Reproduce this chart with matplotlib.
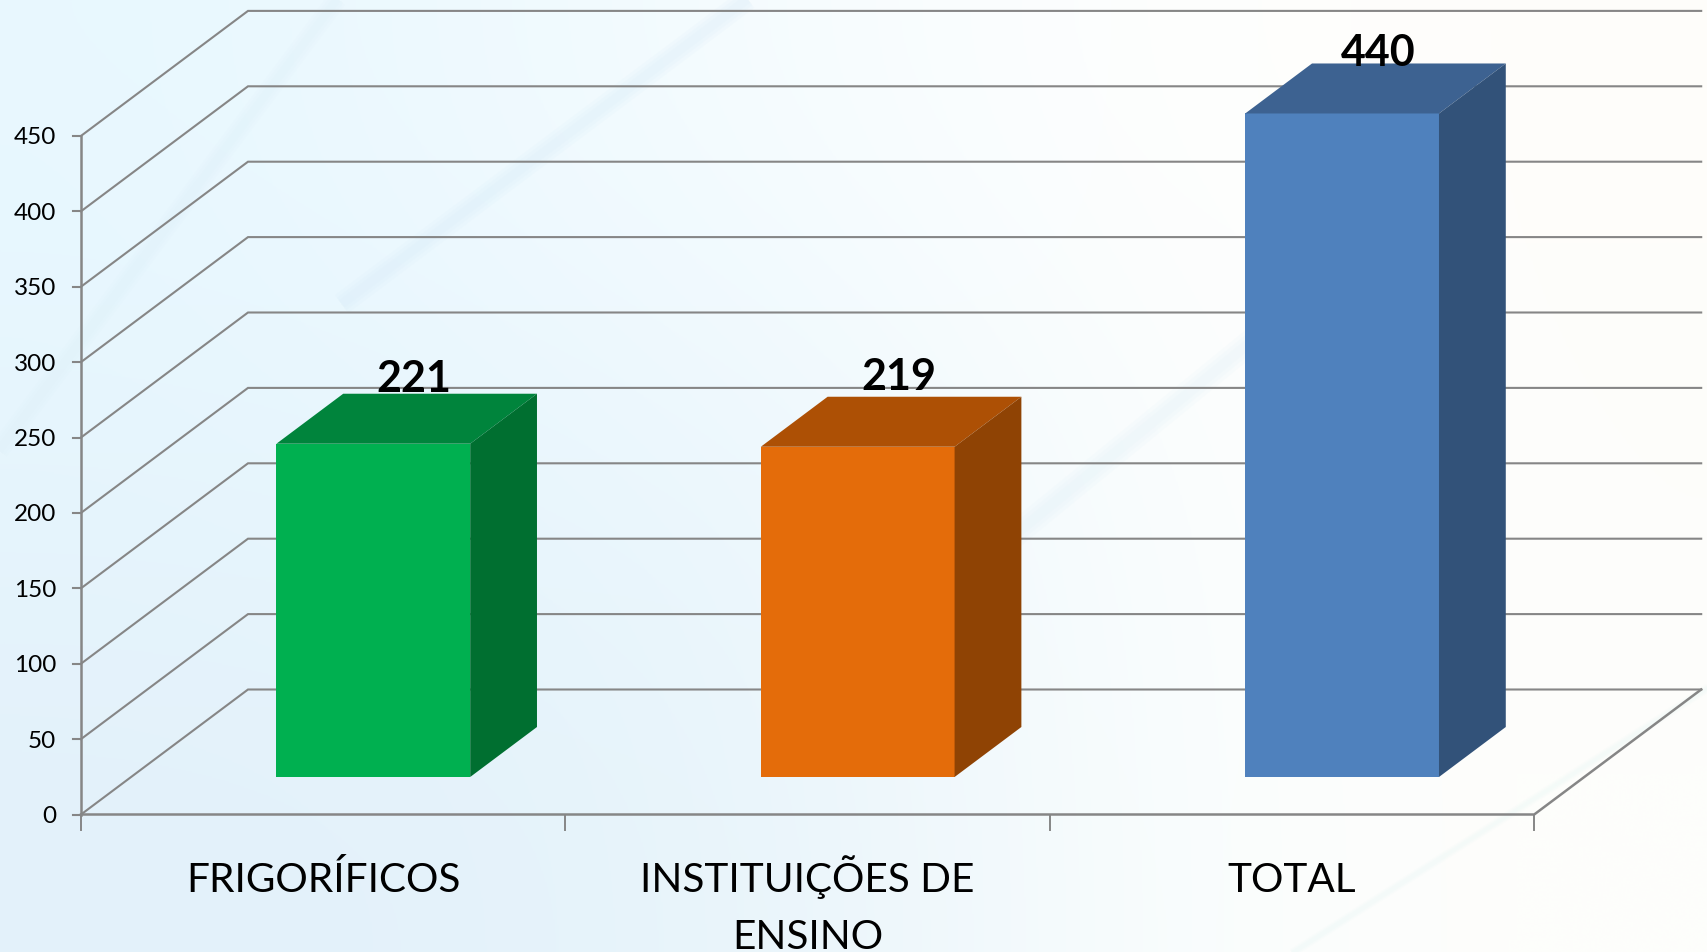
import numpy as np
import matplotlib
matplotlib.use('Agg')
import matplotlib.pyplot as plt
from matplotlib.patches import Polygon

# -------------------------------
# 1. Data
# -------------------------------
categories = ['FRIGORÍFICOS', 'INSTITUIÇÕES DE\nENSINO', 'TOTAL']
values = [221, 219, 440]
y_ticks = [0, 50, 100, 150, 200, 250, 300, 350, 400, 450]

front_colors = ['#00B050', '#E46C0A', '#4F81BD']
top_colors = ['#00843C', '#AD5005', '#3D6291']
side_colors = ['#006F30', '#8F4304', '#325279']

# -------------------------------
# 2. Figure and oblique layout
# -------------------------------
W, H = 1708, 953
PX_CAT = 484.4     # pixels per category
PX_VAL = 1.508     # pixels per value unit
X0, Y0 = 81, 815.5 # pixel position of the axis origin
DEPTH_X = 167 / PX_CAT
DEPTH_Y = 125 / PX_VAL
GRID = '#868686'

fig = plt.figure(figsize=(W / 100, H / 100), dpi=100)
ax = fig.add_axes([0, 0, 1, 1])
xlim = (-X0 / PX_CAT, (W - X0) / PX_CAT)
ylim = ((Y0 - H) / PX_VAL, Y0 / PX_VAL)
ax.axis('off')

# background wash, light blue on the left fading to white on the right
bg = np.array([
    [[232, 248, 255], [240, 250, 255], [248, 253, 255], [255, 255, 254], [254, 253, 250]],
    [[230, 245, 253], [232, 246, 253], [238, 248, 253], [252, 254, 254], [254, 254, 251]],
    [[227, 241, 250], [228, 242, 250], [236, 246, 251], [251, 254, 254], [254, 254, 251]],
]) / 255
ax.imshow(bg, extent=(xlim[0], xlim[1], ylim[0], ylim[1]), aspect='auto',
          interpolation='bicubic', zorder=0)

# faint diagonal streaks of the slide background, in figure fractions
streaks = [(-0.02, 0.48, 0.21, 1.03, '#DCEEF8', 14),
           (0.20, 0.68, 0.46, 1.03, '#D4EAF6', 16),
           (0.50, 0.30, 0.78, 0.71, '#DDF0F8', 18),
           (0.74, -0.02, 1.02, 0.30, '#E6F6F8', 6)]
for fx0, fy0, fx1, fy1, c, w in streaks:
    x_a = xlim[0] + fx0 * (xlim[1] - xlim[0])
    x_b = xlim[0] + fx1 * (xlim[1] - xlim[0])
    y_a = ylim[0] + fy0 * (ylim[1] - ylim[0])
    y_b = ylim[0] + fy1 * (ylim[1] - ylim[0])
    # stacked widths so the edge of the streak stays soft
    for scale in [1.0, 0.7, 0.4]:
        ax.plot([x_a, x_b], [y_a, y_b], color=c, lw=w * scale, alpha=0.12, zorder=0.5,
                solid_capstyle='butt')

# -------------------------------
# 3. Walls, floor and axes
# -------------------------------
n = len(categories)
for v in y_ticks:
    ax.plot([0, DEPTH_X, n + DEPTH_X], [v, v + DEPTH_Y, v + DEPTH_Y],
            color=GRID, lw=1.5, zorder=1, solid_joinstyle='miter')
    ax.plot([-8 / PX_CAT, 0], [v, v], color=GRID, lw=1.5, zorder=1)
    ax.text(-25 / PX_CAT, v - 1 / PX_VAL, str(v), ha='right', va='center', fontsize=17.5,
            family='Lato', color='black')

ax.plot([0, 0], [0, y_ticks[-1]], color=GRID, lw=1.8, zorder=1)
ax.plot([0, n, n + DEPTH_X], [0, 0, DEPTH_Y], color=GRID, lw=1.8, zorder=1)
for i in range(n + 1):
    ax.plot([i, i], [0, -15 / PX_VAL], color=GRID, lw=1.4, zorder=1)

# -------------------------------
# 4. Bars
# -------------------------------
BAR_W = 0.40
D0, D1 = 0.30, 0.70   # front and back of the bar inside the floor depth
label_shift = [16, 21, 11]  # pixels between back edge of the top and label centre
label_dx = [0.687, 0.688, 0.678]  # label centre inside each category
for i, v in enumerate(values):
    left = i + 0.30 + D0 * DEPTH_X
    right = left + BAR_W
    base = D0 * DEPTH_Y
    top = v + base
    ddx = (D1 - D0) * DEPTH_X
    ddy = (D1 - D0) * DEPTH_Y
    ax.add_patch(Polygon([(left, base), (right, base), (right, top), (left, top)],
                         fc=front_colors[i], ec='none', zorder=3))
    ax.add_patch(Polygon([(left, top), (right, top), (right + ddx, top + ddy), (left + ddx, top + ddy)],
                         fc=top_colors[i], ec='none', zorder=3))
    ax.add_patch(Polygon([(right, base), (right + ddx, base + ddy), (right + ddx, top + ddy), (right, top)],
                         fc=side_colors[i], ec='none', zorder=3))
    ax.text(i + label_dx[i], top + ddy + label_shift[i] / PX_VAL, str(v), ha='center', va='center',
            fontsize=31, fontweight='bold', family='Lato', color='black', zorder=4)

# -------------------------------
# 5. Category labels
# -------------------------------
FIRST_BASE = 77   # pixels from the axis down to the first baseline
LINE_STEP = 57
for i, name in enumerate(categories):
    for k, line in enumerate(name.split('\n')):
        ax.text(i + 0.5, -(FIRST_BASE + k * LINE_STEP) / PX_VAL, line, ha='center', va='baseline',
                fontsize=29.2, family='Lato', color='black', zorder=4)

ax.set_xlim(xlim)
ax.set_ylim(ylim)

# -------------------------------
# 6. Save
# -------------------------------
fig.savefig('out.png', dpi=100)
